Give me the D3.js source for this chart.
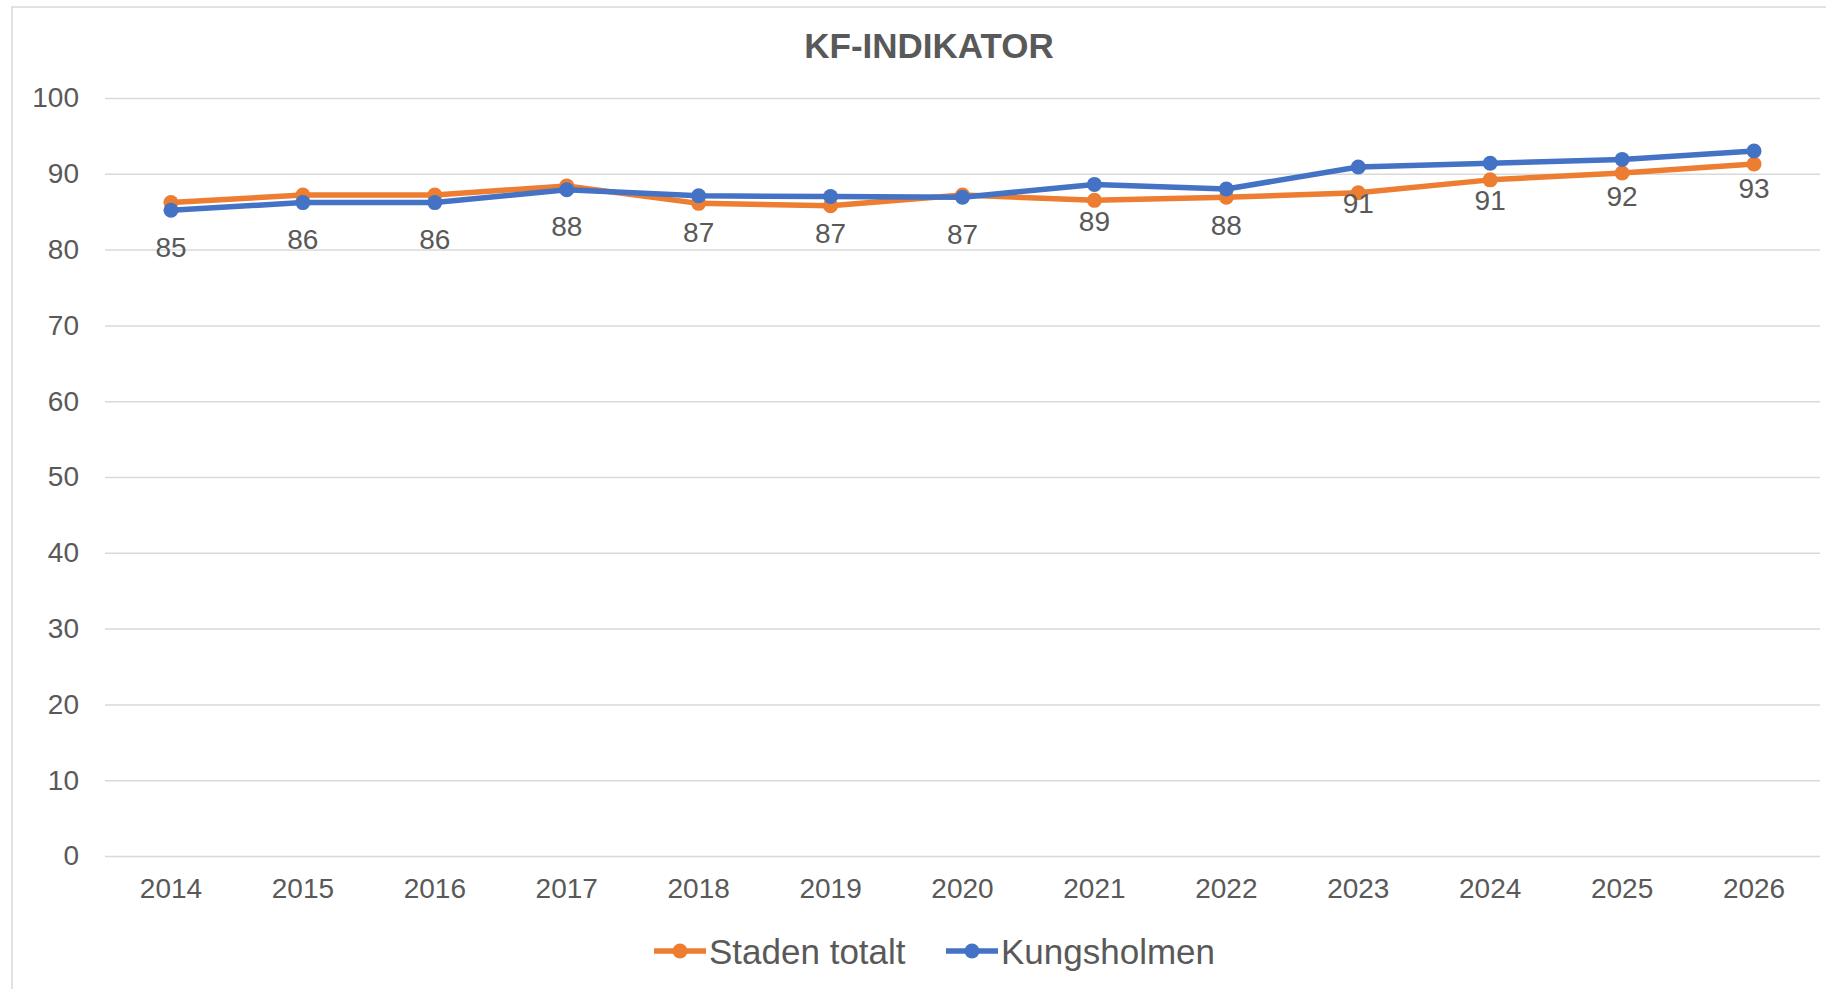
<!DOCTYPE html>
<html>
<head>
<meta charset="utf-8">
<script src="https://cdn.jsdelivr.net/npm/d3@7"></script>
<style>
  body { margin: 0; background: #fff; }
  text { font-family: "Liberation Sans", Arial, sans-serif; }
</style>
</head>
<body>
<div id="graph"></div>
<script>
// data
const years = ["2014", "2015", "2016", "2017", "2018", "2019", "2020", "2021", "2022", "2023", "2024", "2025", "2026"];
const staden = [86.2, 87.2, 87.2, 88.4, 86.1, 85.8, 87.2, 86.5, 86.9, 87.5, 89.2, 90.1, 91.3];
const kungsholmen = [85.2, 86.2, 86.2, 87.9, 87.1, 87.0, 86.9, 88.6, 88.0, 90.9, 91.4, 91.9, 93.0];
const yTicks = [0, 10, 20, 30, 40, 50, 60, 70, 80, 90, 100];
const seriesNames = ["Staden totalt", "Kungsholmen"];
const colors = ["#ED7D31", "#4472C4"];

const width = 1826;
const height = 989;
const plot = { left: 105, right: 1820, top: 98, bottom: 856 };

const svg = d3.select("#graph").append("svg")
  .attr("width", width)
  .attr("height", height);

// chart frame
svg.append("rect")
  .attr("x", 12).attr("y", 7)
  .attr("width", width).attr("height", height)
  .attr("fill", "none")
  .attr("stroke", "#d9d9d9")
  .attr("stroke-width", 1.5);

// title
svg.append("text")
  .attr("x", 929).attr("y", 45)
  .attr("text-anchor", "middle")
  .attr("dominant-baseline", "central")
  .attr("font-size", 35)
  .attr("font-weight", "bold")
  .attr("fill", "#595959")
  .text("KF-INDIKATOR");

const xScale = d3.scaleBand()
  .domain(years)
  .range([plot.left, plot.right]);

const yScale = d3.scaleLinear()
  .domain([0, 100])
  .range([plot.bottom, plot.top]);

// grid + y labels
const yAxis = svg.append("g")
  .attr("transform", "translate(" + plot.left + ",0)")
  .call(d3.axisLeft(yScale).tickValues(yTicks).tickSize(-(plot.right - plot.left)).tickPadding(26));
yAxis.select(".domain").remove();
yAxis.selectAll(".tick line").attr("stroke", "#d9d9d9").attr("stroke-width", 1.5);
yAxis.selectAll(".tick text")
  .attr("font-size", 28)
  .attr("fill", "#595959")
  .attr("font-family", "Liberation Sans, Arial, sans-serif");

// x labels
const xAxis = svg.append("g")
  .attr("transform", "translate(0," + plot.bottom + ")")
  .call(d3.axisBottom(xScale).tickSize(0).tickPadding(22));
xAxis.select(".domain").remove();
xAxis.selectAll(".tick text")
  .attr("font-size", 28)
  .attr("fill", "#595959")
  .attr("font-family", "Liberation Sans, Arial, sans-serif");

const cx = d => xScale(d) + xScale.bandwidth() / 2;

const line = d3.line()
  .x((d, i) => cx(years[i]))
  .y(d => yScale(d));

[staden, kungsholmen].forEach((vals, s) => {
  svg.append("path")
    .datum(vals)
    .attr("d", line)
    .attr("fill", "none")
    .attr("stroke", colors[s])
    .attr("stroke-width", 5.5)
    .attr("stroke-linejoin", "round");

  svg.selectAll(".dot" + s)
    .data(vals)
    .enter().append("circle")
    .attr("class", "dot" + s)
    .attr("cx", (d, i) => cx(years[i]))
    .attr("cy", d => yScale(d))
    .attr("r", 7.5)
    .attr("fill", colors[s]);
});

// data labels under Kungsholmen points
svg.selectAll(".lbl")
  .data(kungsholmen)
  .enter().append("text")
  .attr("class", "lbl")
  .attr("x", (d, i) => cx(years[i]))
  .attr("y", d => yScale(d) + 37)
  .attr("text-anchor", "middle")
  .attr("dominant-baseline", "central")
  .attr("font-size", 28)
  .attr("fill", "#595959")
  .text(d => Math.round(d));

// legend
const legendX = [654, 946];
seriesNames.forEach((name, s) => {
  const g = svg.append("g").attr("transform", "translate(" + legendX[s] + ",951)");
  g.append("line")
    .attr("x1", 0).attr("x2", 52)
    .attr("stroke", colors[s]).attr("stroke-width", 5.5);
  g.append("circle").attr("cx", 26).attr("r", 7.5).attr("fill", colors[s]);
  g.append("text")
    .attr("x", 55)
    .attr("dominant-baseline", "central")
    .attr("font-size", 35)
    .attr("fill", "#595959")
    .text(name);
});
</script>
</body>
</html>
